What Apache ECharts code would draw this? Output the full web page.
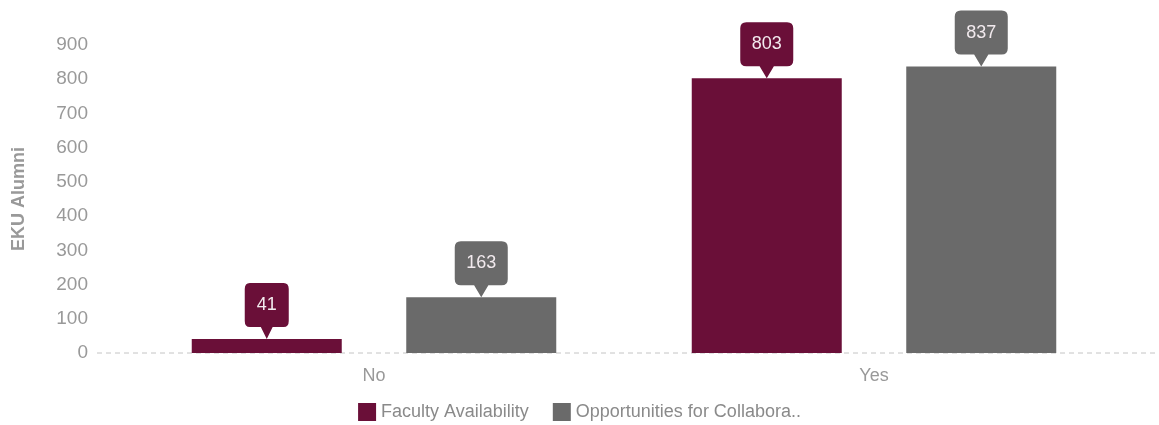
<!DOCTYPE html>
<html>
<head>
<meta charset="UTF-8">
<title>EKU Alumni</title>
<script src="https://cdn.jsdelivr.net/npm/echarts@6/dist/echarts.min.js"></script>
<style>
  html, body { margin: 0; padding: 0; background: #fff; }
  #chart { width: 1159px; height: 425px; }
</style>
</head>
<body>
<div id="chart"></div>
<script>
var categories = ['No', 'Yes'];
var facultyValues = [41, 803];
var collabValues = [163, 837];
var seriesNames = ['Faculty Availability', 'Opportunities for Collaboration'];
var yTicks = { min: 0, max: 900, interval: 100 };

var FONT = '"Liberation Sans", Arial, sans-serif';

// callout bubble: rounded box with a pointer at the bottom
var bubble = 'path://M6,0 H46 Q52,0 52,6 V38 Q52,44 46,44 H33 L26,56 L19,44 H6 Q0,44 0,38 V6 Q0,0 6,0 Z';

function callouts(values, color) {
  return {
    symbol: bubble,
    symbolOffset: [0, '-50%'],
    itemStyle: { color: color },
    label: {
      show: true, color: '#f2eaee', fontSize: 18, fontFamily: FONT,
      offset: [0, -6],
      formatter: function (p) { return p.value; }
    },
    data: values.map(function (v, i) {
      return {
        coord: [categories[i], v], value: v,
        symbolSize: String(v).length > 2 ? [53, 56] : [44, 56]
      };
    })
  };
}

var chart = echarts.init(document.getElementById('chart'));
chart.setOption({
  animation: false,
  grid: { left: 124, right: 35, top: 45, bottom: 72 },
  legend: {
    bottom: -1, left: 'center',
    icon: 'rect', itemWidth: 18, itemHeight: 18, itemGap: 24, itemTextGap: 8,
    textStyle: { color: '#8a8a8a', fontSize: 18, fontFamily: FONT },
    formatter: function (n) { return n.length > 27 ? n.slice(0, 27) + '..' : n; },
    data: seriesNames
  },
  xAxis: {
    type: 'category', data: categories,
    axisLine: { show: false },
    axisTick: { show: false },
    axisLabel: { color: '#999', fontSize: 18, fontFamily: FONT, margin: 14 }
  },
  yAxis: {
    type: 'value', min: yTicks.min, max: yTicks.max, interval: yTicks.interval,
    name: 'EKU Alumni', nameLocation: 'middle', nameGap: 96, nameRotate: 90,
    nameTextStyle: { color: '#999', fontSize: 18, fontWeight: 'bold', fontFamily: FONT },
    splitLine: { show: false },
    axisLine: { show: false },
    axisTick: { show: false },
    axisLabel: { color: '#999', fontSize: 19, fontFamily: FONT, margin: 36 }
  },
  graphic: [{
    type: 'line', z: 0,
    shape: { x1: 97, y1: 353, x2: 1159, y2: 353 },
    style: { stroke: '#c4c4c4', lineWidth: 1, lineDash: [5, 4] }
  }],
  series: [
    {
      name: seriesNames[0], type: 'bar', data: facultyValues,
      barWidth: 150, barGap: '43%',
      itemStyle: { color: '#6a0f38' },
      markPoint: callouts(facultyValues, '#6a0f38')
    },
    {
      name: seriesNames[1], type: 'bar', data: collabValues,
      barWidth: 150,
      itemStyle: { color: '#6a6a6a' },
      markPoint: callouts(collabValues, '#6a6a6a')
    }
  ]
});
</script>
</body>
</html>
